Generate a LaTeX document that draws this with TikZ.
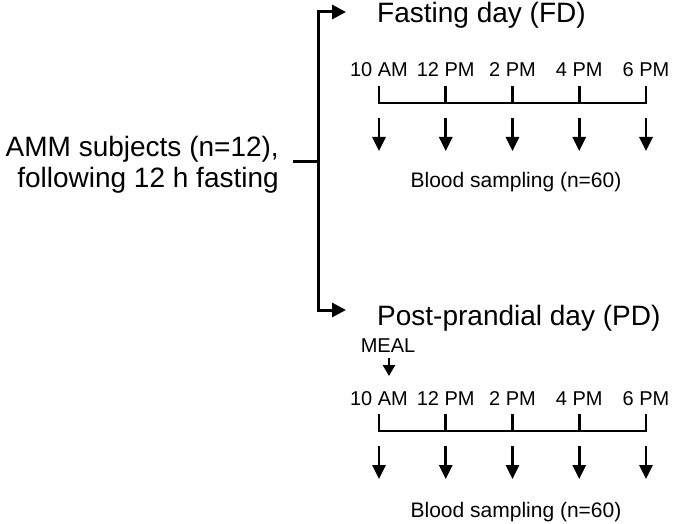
\documentclass[tikz,border=0pt]{standalone}
\usepackage{fontspec}
\setmainfont{Liberation Sans}
\usetikzlibrary{arrows.meta}

\tikzset{
  bigtext/.style={font=\fontsize{28}{31}\selectfont, inner sep=0pt},
  smalltext/.style={font=\fontsize{20}{22}\selectfont, inner sep=0pt},
  line/.style={line width=2.6pt},
  mainarrow/.style={line width=3pt, -{Triangle[width=14pt,length=14pt]}},
  samplearrow/.style={line width=2.6pt, -{Triangle[width=13pt,length=14pt]}},
}

\begin{document}
\begin{tikzpicture}[x=1pt,y=-1pt]
            \useasboundingbox (0,0) rectangle (675,524);

            % subjects and the split into two days
            \node[bigtext, align=right, anchor=east] (subj) at (279,165) {AMM subjects (n=12),\\following 12 h fasting};
            \coordinate (stub) at (293,162);
            \coordinate (split) at (318,162);
            \coordinate (fd) at (346,12);
            \coordinate (pd) at (346,310);

            \draw[line, line width=3pt] (stub) -- (split);
            \draw[mainarrow] (split) |- (fd);
            \draw[mainarrow] (split) |- (pd);

            \node[bigtext, anchor=base west] (fdtitle) at (377,23) {Fasting day (FD)};
            \node[bigtext, anchor=base west] (pdtitle) at (377,325) {Post-prandial day (PD)};

            % fasting day
            \foreach \lab [count=\i] in {10 AM,12 PM,2 PM,4 PM,6 PM} {
                \pgfmathsetmacro\px{379+66.75*(\i-1)}
                \node[smalltext, anchor=base] (fdtime\i) at (\px,77) {\lab};
                \coordinate (fdtop\i) at (\px,86);
                \coordinate (fdbar\i) at (\px,103);
                \coordinate (fdarr\i) at (\px,118);
                \coordinate (fdend\i) at (\px,151);
                \draw[samplearrow] (fdarr\i) -- (fdend\i);
            }
            \draw[line] (fdtop1) -- (fdbar1) -- (fdbar5) -- (fdtop5);
            \draw[line] (fdtop2) -- (fdbar2);
            \draw[line] (fdtop3) -- (fdbar3);
            \draw[line] (fdtop4) -- (fdbar4);
            \node[smalltext, font=\fontsize{21}{23}\selectfont, anchor=base] (fdblood) at (516,188) {Blood sampling (n=60)};

            % post-prandial day
            \node[smalltext, anchor=base] (meal) at (388,352) {MEAL};
            \coordinate (mealtop) at (389,358);
            \coordinate (mealend) at (389,376);
            \draw[line, -{Triangle[width=12pt,length=11pt]}] (mealtop) -- (mealend);

            \foreach \lab [count=\i] in {10 AM,12 PM,2 PM,4 PM,6 PM} {
                \pgfmathsetmacro\px{379+66.75*(\i-1)}
                \node[smalltext, anchor=base] (pdtime\i) at (\px,405) {\lab};
                \coordinate (pdtop\i) at (\px,414);
                \coordinate (pdbar\i) at (\px,431);
                \coordinate (pdarr\i) at (\px,446);
                \coordinate (pdend\i) at (\px,479);
                \draw[samplearrow] (pdarr\i) -- (pdend\i);
            }
            \draw[line] (pdtop1) -- (pdbar1) -- (pdbar5) -- (pdtop5);
            \draw[line] (pdtop2) -- (pdbar2);
            \draw[line] (pdtop3) -- (pdbar3);
            \draw[line] (pdtop4) -- (pdbar4);
            \node[smalltext, font=\fontsize{21}{23}\selectfont, anchor=base] (pdblood) at (516,517) {Blood sampling (n=60)};
        \end{tikzpicture}
\end{document}
